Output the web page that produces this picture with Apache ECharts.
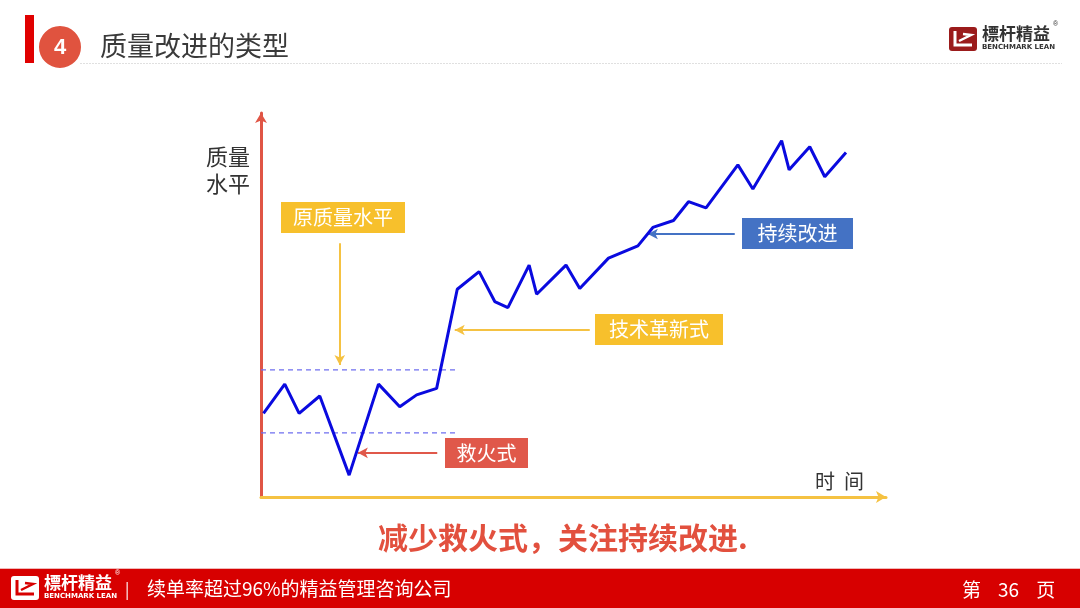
<!DOCTYPE html>
<html><head><meta charset="utf-8">
<script src="https://cdn.jsdelivr.net/npm/echarts@6/dist/echarts.min.js"></script>
<style>html,body{margin:0;padding:0;background:#fff}#c{width:1080px;height:608px}</style>
</head><body><div id="c"></div>
<script>
// time (x) and quality level (y) of the quality curve
const timePoints = [0.4,3.8,6.1,9.4,14.1,18.8,22.2,24.9,28.1,31.4,34.9,37.4,39.5,42.9,44.1,48.8,51.0,55.6,60.3,62.7,66.0,68.4,71.2,76.3,78.7,83.3,84.5,87.8,90.2,93.6];
const qualityLevels = [21.8,29.4,21.8,26.3,5.7,29.4,23.5,26.6,28.3,54.1,58.7,50.9,49.3,60.4,52.8,60.4,54.3,62.2,65.4,70.2,72.0,76.9,75.3,86.5,80.2,92.8,85.2,91.2,83.4,89.7];
// original quality band (upper / lower dashed lines) and its end in time
const bandUpper = 33.1;
const bandLower = 16.7;
const bandEnd = 31.3;
// annotation arrows [fromTime, fromQuality, toTime, toQuality]
const arrowOriginal = [12.6, 66.1, 12.6, 34.4];
const arrowInnovation = [52.6, 43.5, 31.0, 43.5];
const arrowContinuous = [75.8, 68.5, 61.9, 68.5];
const arrowFirefight = [28.2, 11.5, 15.5, 11.5];
const labels = {original:'原质量水平', innovation:'技术革新式', continuous:'持续改进', fire:'救火式'};

const FONT = '"Noto Sans CJK SC","Noto Sans",sans-serif';
const chart = echarts.init(document.getElementById('c'));
const curve = timePoints.map((t,i)=>[t, qualityLevels[i]]);
function arrowLine(a, color){
  return {
    type:'line', data:[], silent:true,
    markLine:{symbol:['none','arrow'], symbolSize:[8,10], silent:true, label:{show:false},
      lineStyle:{color:color, width:2, type:'solid'},
      data:[[{coord:[a[0],a[1]]},{coord:[a[2],a[3]]}]]}
  };
}
function box(x,y,w,h,fill,text){
  return {type:'group', children:[
    {type:'rect', shape:{x:x,y:y,width:w,height:h}, style:{fill:fill}},
    {type:'text', x:x+w/2, y:y+h/2, style:{text:text, fill:'#fff', font:'20px '+FONT, align:'center', verticalAlign:'middle'}}
  ]};
}
function logo(x,y,dark){
  const main = dark ? '#333' : '#fff';
  const iconFill = dark ? '#9B1B1B' : '#fff';
  const iconInner = dark ? '#fff' : '#D70000';
  return {type:'group', children:[
    {type:'rect', shape:{x:x,y:y,width:28,height:24,r:3}, style:{fill:iconFill}},
    {type:'polyline', shape:{points:[[x+6,y+4],[x+6,y+18],[x+23,y+18]]}, style:{stroke:iconInner, lineWidth:3, fill:null}},
    {type:'polyline', shape:{points:[[x+10,y+14],[x+22,y+8],[x+14,y+7]]}, style:{stroke:iconInner, lineWidth:2.5, fill:null}},
    {type:'text', x:x+33, y:y-2, style:{text:'標杆精益', fill:main, font:'bold 17px '+FONT}},
    {type:'text', x:x+33, y:y+17, style:{text:'BENCHMARK LEAN', fill:main, font:'bold 7px "DejaVu Sans",sans-serif'}},
    {type:'text', x:x+104, y:y-6, style:{text:'®', fill:main, font:'7px sans-serif'}}
  ]};
}

chart.setOption({
  animation:false,
  grid:{left:261, right:194, top:113, bottom:111},
  xAxis:{type:'value', min:0, max:100, splitLine:{show:false}, axisTick:{show:false}, axisLabel:{show:false},
    axisLine:{show:true, symbol:['none','arrow'], symbolSize:[9,10], lineStyle:{color:'#F5C242', width:3}}},
  yAxis:{type:'value', min:0, max:100, splitLine:{show:false}, axisTick:{show:false}, axisLabel:{show:false},
    axisLine:{show:true, symbol:['none','arrow'], symbolSize:[9,10], lineStyle:{color:'#E05545', width:3}}},
  series:[
    {type:'line', data:[[0,bandUpper],[bandEnd,bandUpper]], symbol:'none', silent:true, lineStyle:{color:'#6F6FF0', width:1.2, type:[5,4]}},
    {type:'line', data:[[0,bandLower],[bandEnd,bandLower]], symbol:'none', silent:true, lineStyle:{color:'#6F6FF0', width:1.2, type:[5,4]}},
    {type:'line', data:curve, symbol:'none', lineStyle:{color:'#0A0ADF', width:3}, z:5},
    arrowLine(arrowOriginal, '#F5C242'),
    arrowLine(arrowInnovation, '#F5C242'),
    arrowLine(arrowContinuous, '#4472C4'),
    arrowLine(arrowFirefight, '#E0584A')
  ],
  graphic:[
    // header
    {type:'rect', shape:{x:25,y:15,width:9,height:48}, style:{fill:'#E00000'}},
    {type:'circle', shape:{cx:60,cy:47,r:22}, style:{fill:'#E0533F', stroke:'#fff', lineWidth:2}},
    {type:'text', x:60, y:48, style:{text:'4', fill:'#fff', font:'bold 22px "Liberation Sans",sans-serif', align:'center', verticalAlign:'middle'}},
    {type:'text', x:100, y:46, style:{text:'质量改进的类型', fill:'#3A3A3A', font:'27px '+FONT, verticalAlign:'middle'}},
    {type:'line', shape:{x1:80,y1:63.5,x2:1062,y2:63.5}, style:{stroke:'#E0E0E0', lineWidth:1, lineDash:[2,1]}},
    logo(949,27,true),
    // axis titles
    {type:'text', x:206, y:143, style:{text:'质量\n水平', fill:'#333', font:'22px '+FONT, lineHeight:27}},
    {type:'text', x:815, y:481, style:{text:'时  间', fill:'#333', font:'20px '+FONT, verticalAlign:'middle'}},
    // annotation boxes
    box(281,202,124,31,'#F7C02C',labels.original),
    box(595,314,128,31,'#F7C02C',labels.innovation),
    box(742,218,111,31,'#4472C4',labels.continuous),
    box(445,438,83,30,'#E0584A',labels.fire),
    // conclusion
    {type:'text', x:378, y:538, style:{text:'减少救火式，关注持续改进.', fill:'#E2503E', font:'bold 30px '+FONT, verticalAlign:'middle'}},
    // footer
    {type:'rect', shape:{x:0,y:569,width:1080,height:39}, style:{fill:'#D70000'}},
    {type:'line', shape:{x1:0,y1:568.5,x2:1080,y2:568.5}, style:{stroke:'#F0B8B8', lineWidth:1}},
    logo(11,576,false),
    {type:'text', x:125, y:589, style:{text:'|', fill:'#fff', font:'16px '+FONT, verticalAlign:'middle'}},
    {type:'text', x:147, y:589, style:{text:'续单率超过96%的精益管理咨询公司', fill:'#fff', font:'19px '+FONT, verticalAlign:'middle'}},
    {type:'text', x:962, y:590, style:{text:'第    36    页', fill:'#fff', font:'19px '+FONT, verticalAlign:'middle'}}
  ]
});
</script></body></html>
